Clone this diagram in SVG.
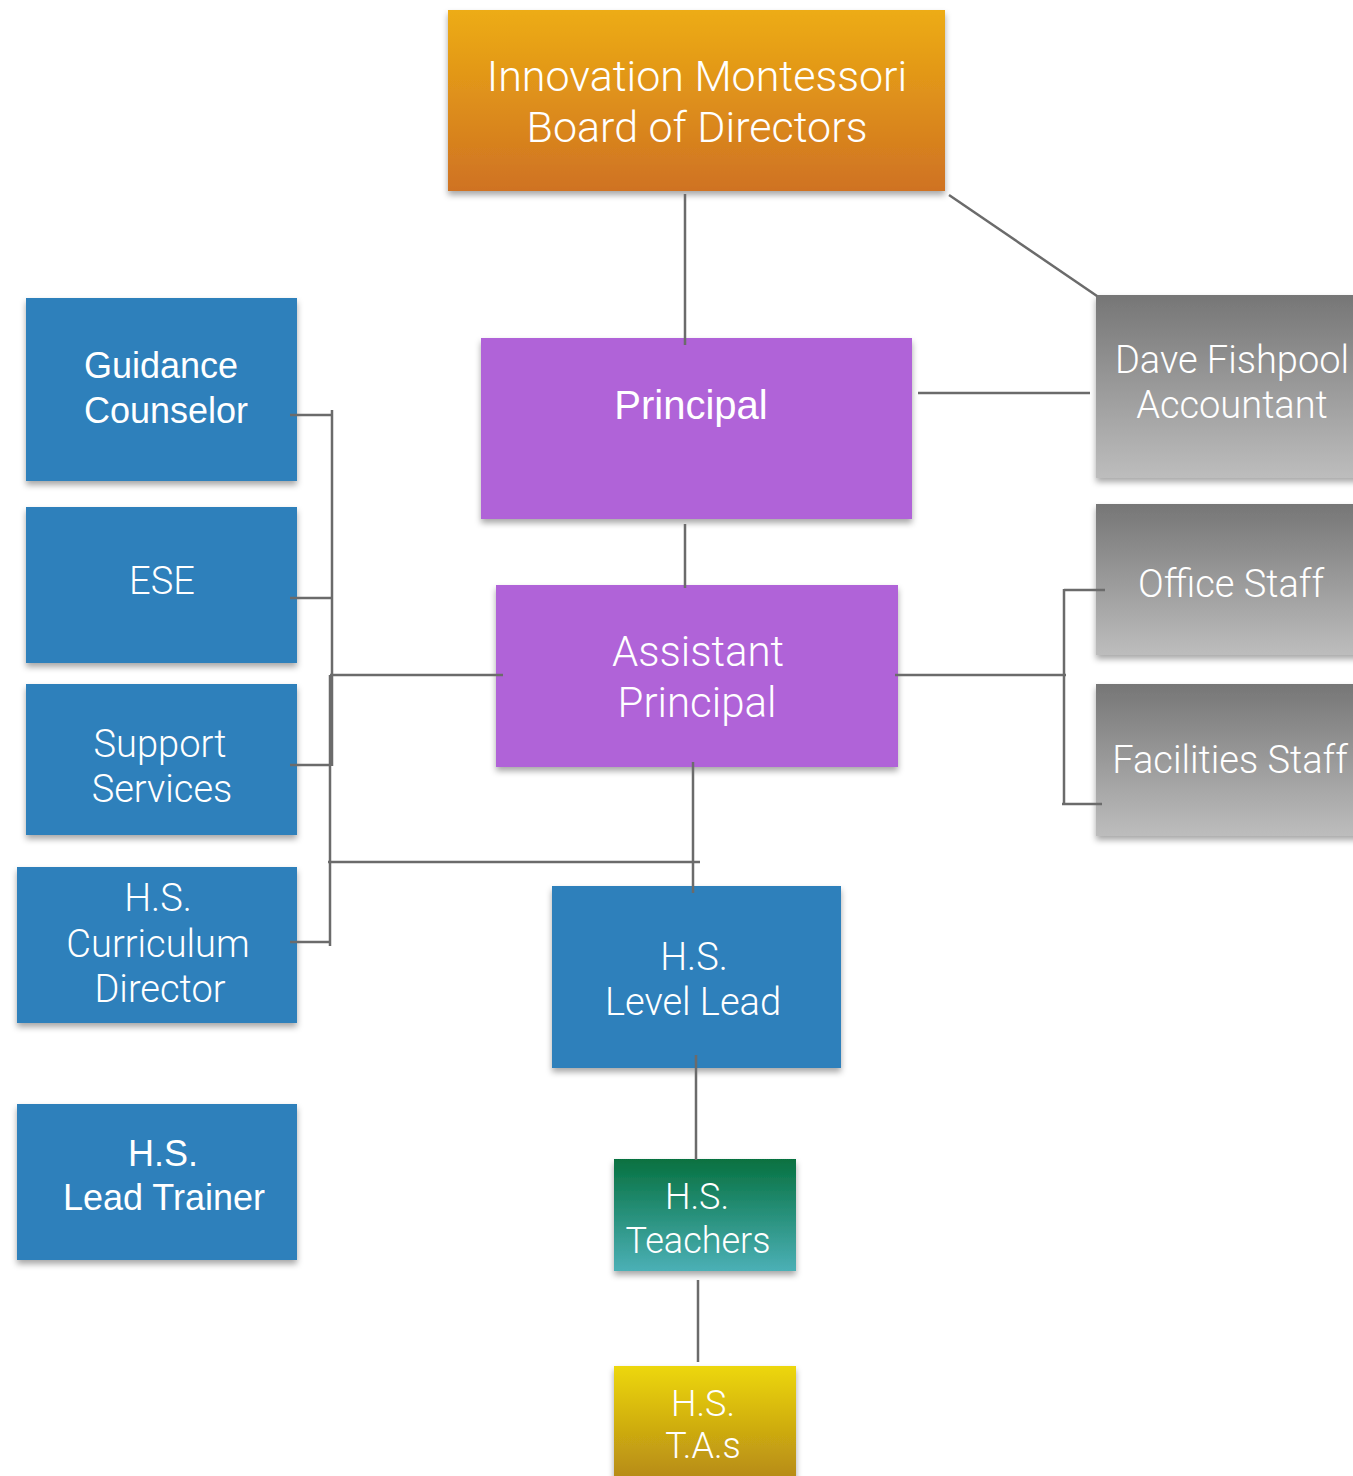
<svg xmlns="http://www.w3.org/2000/svg" width="1353" height="1476" viewBox="0 0 1353 1476">
<defs>
<linearGradient id="gOrange" x1="0" y1="0" x2="0" y2="1"><stop offset="0" stop-color="#EDAC13"/><stop offset="1" stop-color="#CF7223"/></linearGradient>
<linearGradient id="gGray" x1="0" y1="0" x2="0" y2="1"><stop offset="0" stop-color="#767676"/><stop offset="1" stop-color="#BDBDBD"/></linearGradient>
<linearGradient id="gGreen" x1="0" y1="0" x2="0" y2="1"><stop offset="0" stop-color="#067140"/><stop offset="1" stop-color="#4BB0B6"/></linearGradient>
<linearGradient id="gYellow" x1="0" y1="0" x2="0" y2="1"><stop offset="0" stop-color="#EDD70B"/><stop offset="1" stop-color="#B58915"/></linearGradient>
<filter id="sh" x="-10%" y="-10%" width="125%" height="130%"><feDropShadow dx="0" dy="4" stdDeviation="3" flood-color="#000" flood-opacity="0.35"/></filter>
</defs>
<style>
.box{filter:url(#sh)}
.blue{fill:#2F80BB}
.purple{fill:#B064D8}
text{font-family:"Liberation Sans",Arial,sans-serif;fill:#fff;text-anchor:middle}
.l{font-family:Roboto,"Liberation Sans",sans-serif;font-weight:300}
.c line,.c path{stroke:#6B6B6B;stroke-width:2.5;fill:none}
</style>
<rect width="1353" height="1476" fill="#fff"/>
<g id="board"><rect class="box" x="448" y="10" width="497" height="181" fill="url(#gOrange)"/>
<text x="697" y="91" font-size="43" class="l">Innovation Montessori</text><text x="697" y="142" font-size="43" class="l">Board of Directors</text></g>
<g id="principal"><rect class="box purple" x="481" y="338" width="431" height="181"/>
<text x="691" y="419" font-size="40">Principal</text></g>
<g id="assistant"><rect class="box purple" x="496" y="585" width="402" height="182"/>
<text x="698" y="666" font-size="42" class="l">Assistant</text><text x="697" y="717" font-size="42" class="l">Principal</text></g>
<g id="dave"><rect class="box" x="1096" y="295" width="270" height="183" fill="url(#gGray)"/>
<text x="1232" y="373" font-size="38" class="l">Dave Fishpool</text><text x="1232" y="418" font-size="38" class="l">Accountant</text></g>
<g id="office"><rect class="box" x="1096" y="504" width="270" height="151" fill="url(#gGray)"/>
<text x="1231" y="597" font-size="38" class="l">Office Staff</text></g>
<g id="facilities"><rect class="box" x="1096" y="684" width="270" height="152" fill="url(#gGray)"/>
<text x="1230" y="773" font-size="38" class="l">Facilities Staff</text></g>
<g id="guidance"><rect class="box blue" x="26" y="298" width="271" height="183"/>
<text x="161" y="378" font-size="36">Guidance</text><text x="166" y="423" font-size="36">Counselor</text></g>
<g id="ese"><rect class="box blue" x="26" y="507" width="271" height="156"/>
<text x="162" y="594" font-size="38" class="l">ESE</text></g>
<g id="support"><rect class="box blue" x="26" y="684" width="271" height="151"/>
<text x="160" y="757" font-size="38" class="l">Support</text><text x="162" y="802" font-size="38" class="l">Services</text></g>
<g id="curriculum"><rect class="box blue" x="17" y="867" width="280" height="156"/>
<text x="158" y="911" font-size="38" class="l">H.S.</text><text x="158" y="957" font-size="38" class="l">Curriculum</text><text x="160" y="1002" font-size="38" class="l">Director</text></g>
<g id="trainer"><rect class="box blue" x="17" y="1104" width="280" height="156"/>
<text x="163" y="1166" font-size="36">H.S.</text><text x="164" y="1210" font-size="36">Lead Trainer</text></g>
<g id="levellead"><rect class="box blue" x="552" y="886" width="289" height="182"/>
<text x="694" y="970" font-size="38" class="l">H.S.</text><text x="693" y="1015" font-size="38" class="l">Level Lead</text></g>
<g id="teachers"><rect class="box" x="614" y="1159" width="182" height="112" fill="url(#gGreen)"/>
<text x="697" y="1209" font-size="36" class="l">H.S.</text><text x="698" y="1253" font-size="36" class="l">Teachers</text></g>
<g id="tas"><rect class="box" x="614" y="1366" width="182" height="115" fill="url(#gYellow)"/>
<text x="703" y="1416" font-size="36" class="l">H.S.</text><text x="703" y="1458" font-size="36" class="l">T.A.s</text></g>
<g class="c" id="connectors">
<line x1="685" y1="194" x2="685" y2="345"/>
<line x1="949" y1="195" x2="1097" y2="296"/>
<line x1="918" y1="393" x2="1090" y2="393"/>
<line x1="685" y1="524" x2="685" y2="588"/>
<path d="M290 415H331M290 598H331M290 765H331M290 942H331M332 410V766M330 675V946M330 675H503"/>
<path d="M328 862H700M693 762V893"/>
<path d="M895 675H1066M1064 589V805M1064 590H1105M1062 804H1102"/>
<line x1="696" y1="1055" x2="696" y2="1160"/>
<line x1="698" y1="1280" x2="698" y2="1362"/>
</g>
</svg>
